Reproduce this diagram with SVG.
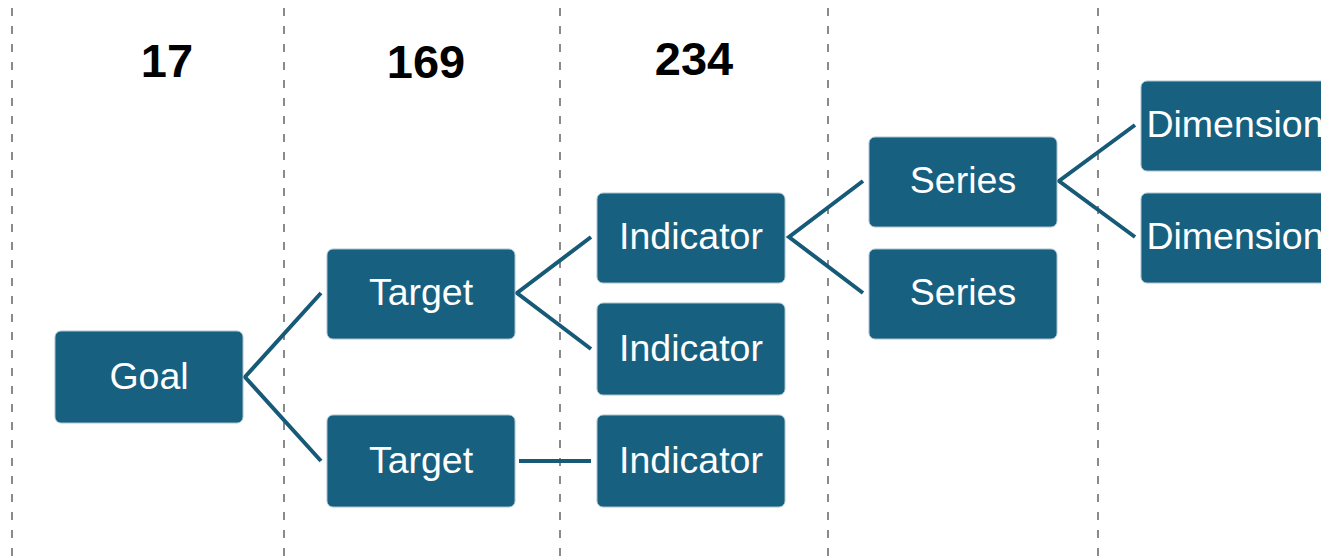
<svg xmlns="http://www.w3.org/2000/svg" width="1321" height="560" viewBox="0 0 1321 560">
<style>
.grid{stroke:#8a8a8a;stroke-width:2;stroke-dasharray:8 10;fill:none}
.num{font-family:"Liberation Sans",Arial,sans-serif;font-weight:bold;font-size:47px;fill:#000;text-anchor:middle}
.box{fill:#17607f;stroke:#a9c3cf;stroke-width:1}
.lbl{font-family:"Liberation Sans",Arial,sans-serif;font-size:37.5px;fill:#fff;text-anchor:middle}
.con{stroke:#165a78;stroke-width:4;fill:none}
</style>
<rect width="1321" height="560" fill="#fff"/>
<g id="columns">
<line class="grid" x1="12" y1="8" x2="12" y2="560"/>
<line class="grid" x1="284" y1="8" x2="284" y2="560"/>
<line class="grid" x1="560" y1="8" x2="560" y2="560"/>
<line class="grid" x1="828" y1="8" x2="828" y2="560"/>
<line class="grid" x1="1098" y1="8" x2="1098" y2="560"/>
</g>
<g id="headers">
<text class="num" x="167" y="77">17</text>
<text class="num" x="426" y="78">169</text>
<text class="num" x="694" y="75">234</text>
</g>
<g id="connectors">
<polyline class="con" points="321,293 245,377 321,461"/>
<polyline class="con" points="591,237 517,293 591,349"/>
<line class="con" x1="519" y1="461" x2="591" y2="461"/>
<polyline class="con" points="863,181 789,237 863,293"/>
<polyline class="con" points="1135,125 1059,181 1135,237"/>
</g>
<g id="goal"><rect class="box" x="55" y="331" width="188" height="92" rx="6"/><text class="lbl" x="149" y="389">Goal</text></g>
<g id="target1"><rect class="box" x="327" y="249" width="188" height="90" rx="6"/><text class="lbl" x="421" y="305">Target</text></g>
<g id="target2"><rect class="box" x="327" y="415" width="188" height="92" rx="6"/><text class="lbl" x="421" y="473">Target</text></g>
<g id="indicator1"><rect class="box" x="597" y="193" width="188" height="90" rx="6"/><text class="lbl" x="691" y="249">Indicator</text></g>
<g id="indicator2"><rect class="box" x="597" y="303" width="188" height="92" rx="6"/><text class="lbl" x="691" y="361">Indicator</text></g>
<g id="indicator3"><rect class="box" x="597" y="415" width="188" height="92" rx="6"/><text class="lbl" x="691" y="473">Indicator</text></g>
<g id="series1"><rect class="box" x="869" y="137" width="188" height="90" rx="6"/><text class="lbl" x="963" y="193">Series</text></g>
<g id="series2"><rect class="box" x="869" y="249" width="188" height="90" rx="6"/><text class="lbl" x="963" y="305">Series</text></g>
<g id="dimension1"><rect class="box" x="1141" y="81" width="188" height="90" rx="6"/><text class="lbl" x="1235" y="137">Dimension</text></g>
<g id="dimension2"><rect class="box" x="1141" y="193" width="188" height="90" rx="6"/><text class="lbl" x="1235" y="249">Dimension</text></g>
</svg>
